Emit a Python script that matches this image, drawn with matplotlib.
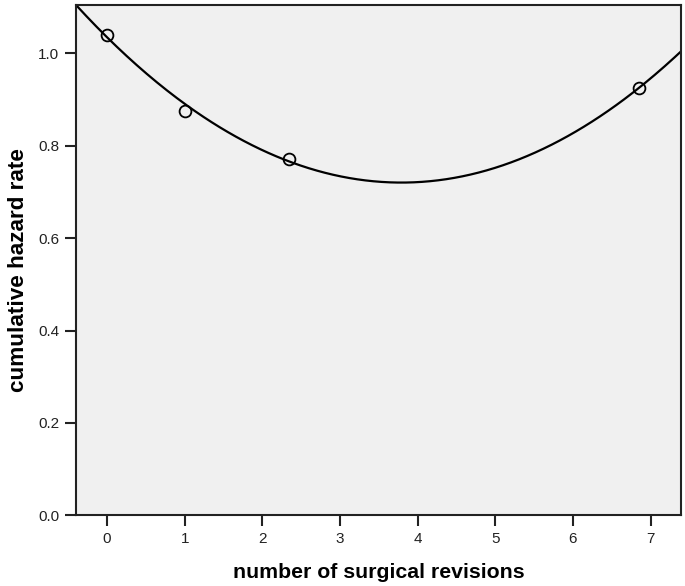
import numpy as np
import matplotlib
matplotlib.use("Agg")
import matplotlib.pyplot as plt

plt.rcParams['font.family'] = ['Liberation Sans', 'DejaVu Sans']

# observed points
revisions = [0, 1, 2.34, 6.85]
hazard = [1.04, 0.875, 0.771, 0.925]

# quadratic fit coefficients (highest power first)
fit_coef = [0.0219, -0.166, 1.035]

x_ticks = [0, 1, 2, 3, 4, 5, 6, 7]
y_ticks = [0.0, 0.2, 0.4, 0.6, 0.8, 1.0]

fig = plt.figure(figsize=(6.85, 5.86), dpi=100)
ax = fig.add_axes([0.111, 0.1207, 0.883, 0.8708])
ax.set_facecolor('#f0f0f0')

xlim = (-0.4, 7.39)
xs = np.linspace(xlim[0], xlim[1], 300)
ax.plot(xs, np.polyval(fit_coef, xs), color='black', lw=1.6, zorder=2)
ax.plot(revisions, hazard, 'o', mfc='none', mec='black', mew=1.3, ms=8.5, zorder=3)

ax.set_xlim(*xlim)
ax.set_ylim(0, 1.105)
ax.set_xticks(x_ticks)
ax.set_yticks(y_ticks)
ax.set_yticklabels([f"{v:.1f}" for v in y_ticks])
ax.tick_params(direction='out', length=8, width=1.5, labelsize=11, pad=4, colors='#222222')
for s in ax.spines.values():
    s.set_linewidth(1.5)
    s.set_color('#222222')

ax.set_xlabel('number of surgical revisions', fontsize=15.3, fontweight='bold', labelpad=12)
ax.set_ylabel('cumulative hazard rate', fontsize=16.2, fontweight='bold')
ax.yaxis.set_label_coords(-0.077, 0.48)

fig.savefig('out.png', dpi=100)
